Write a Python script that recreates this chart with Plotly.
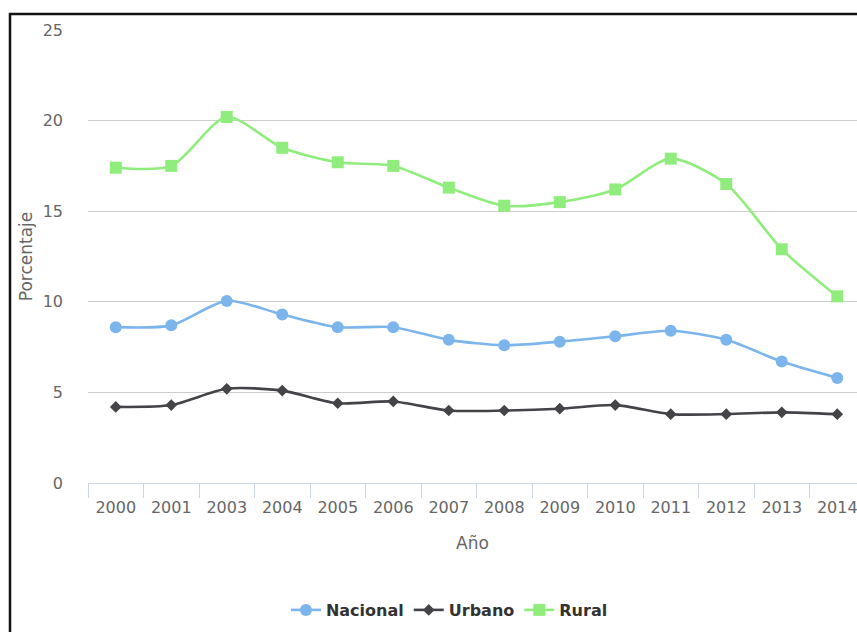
import plotly.graph_objects as go

# Years on the category axis (2002 is not in the series)
years = ["2000", "2001", "2003", "2004", "2005", "2006", "2007",
         "2008", "2009", "2010", "2011", "2012", "2013", "2014"]

# Percentages per area
nacional = [8.6, 8.7, 10.05, 9.3, 8.6, 8.6, 7.9, 7.6, 7.8, 8.1, 8.4, 7.9, 6.7, 5.8]
urbano = [4.2, 4.3, 5.2, 5.1, 4.4, 4.5, 4.0, 4.0, 4.1, 4.3, 3.8, 3.8, 3.9, 3.8]
rural = [17.4, 17.5, 20.2, 18.5, 17.7, 17.5, 16.3, 15.3, 15.5, 16.2, 17.9, 16.5, 12.9, 10.3]

y_ticks = [0, 5, 10, 15, 20, 25]

FONT = "DejaVu Sans"
W, H = 857, 632
M_L, M_R, M_T, M_B = 88, 0, 30, 149
plot_w = W - M_L - M_R
plot_h = H - M_T - M_B
cat_px = 55.5  # width of one category slot

fig = go.Figure()

series = [
    ("Nacional", nacional, "#7cb5ec", "circle", 12),
    ("Urbano", urbano, "#434348", "diamond", 9),
    ("Rural", rural, "#90ed7d", "square", 12),
]
for name, vals, color, symbol, size in series:
    fig.add_trace(go.Scatter(
        x=years, y=vals, name=name, mode="lines+markers",
        line=dict(color=color, width=2.6, shape="spline", smoothing=0.75),
        marker=dict(color=color, symbol=symbol, size=size, line=dict(width=0)),
        cliponaxis=False,
    ))

x_end = -0.5 + plot_w / cat_px

fig.update_layout(
    width=W, height=H,
    margin=dict(l=M_L, r=M_R, t=M_T, b=M_B, autoexpand=False),
    paper_bgcolor="white", plot_bgcolor="white",
    font=dict(family=FONT, size=16, color="#666666"),
    showlegend=True,
    legend=dict(
        orientation="h", x=0.47, xanchor="center",
        y=(0 - (610 - (H - M_B))) / plot_h, yanchor="middle",
        font=dict(family=FONT, size=16, color="#333333", weight="bold"),
        itemwidth=30, tracegroupgap=0, bgcolor="rgba(0,0,0,0)",
    ),
    xaxis=dict(
        type="category", categoryorder="array", categoryarray=years,
        range=[-0.5, x_end], showgrid=False, zeroline=False,
        showline=True, linecolor="#ccd6eb", linewidth=1,
        ticks="outside", tickson="boundaries", ticklen=14,
        tickcolor="#ccd6eb", tickwidth=1, ticklabelstandoff=10,
        tickfont=dict(family=FONT, size=16, color="#666666"),
        title=dict(text="Año", font=dict(family=FONT, size=17, color="#666666"), standoff=20),
        fixedrange=True,
    ),
    yaxis=dict(
        range=[0, 25], tickvals=y_ticks, showgrid=True,
        gridcolor="#cccccc", gridwidth=1, zeroline=False, showline=False,
        ticks="", ticklabelstandoff=24,
        tickfont=dict(family=FONT, size=16, color="#666666"),
        title=dict(text="Porcentaje", font=dict(family=FONT, size=17, color="#666666"), standoff=5),
        fixedrange=True,
    ),
    shapes=[dict(
        type="rect", xref="paper", yref="paper",
        x0=(10 - M_L) / plot_w, x1=1.2,
        y0=-0.6, y1=((H - M_B) - 14) / plot_h,
        line=dict(color="#111111", width=2.5), fillcolor="rgba(0,0,0,0)",
        layer="above",
    )],
)

fig.write_html("out.html")
